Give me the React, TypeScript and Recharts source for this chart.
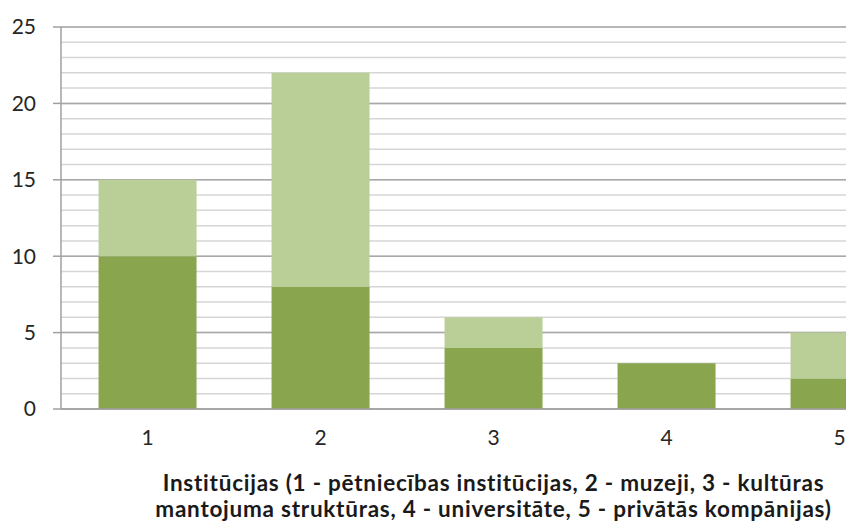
import { BarChart, Bar, XAxis, YAxis, CartesianGrid, Label } from 'recharts';

const categories = ['1', '2', '3', '4', '5'];
const darkValues = [10, 8, 4, 3, 2];
const lightValues = [5, 14, 2, 0, 3];
const majorTicks = [0, 5, 10, 15, 20, 25];
const minorTicks = [0, 1, 2, 3, 4, 5, 6, 7, 8, 9, 10, 11, 12, 13, 14, 15, 16, 17, 18, 19, 20, 21, 22, 23, 24, 25];
const titleLines = [
  'Institūcijas (1 - pētniecības institūcijas, 2 - muzeji, 3 - kultūras',
  'mantojuma struktūras, 4 - universitāte, 5 - privātās kompānijas)',
];

const data = categories.map((cat, i) => ({
  cat,
  dark: darkValues[i],
  light: lightValues[i],
}));

const font = "Lato, 'Open Sans', sans-serif";

const AxisTitle = (props: any) => {
  const { viewBox } = props;
  const cx = viewBox.x + viewBox.width / 2;
  return (
    <g>
      {titleLines.map((line, i) => (
        <text
          key={i}
          x={cx}
          y={viewBox.y + 82 + i * 26}
          textAnchor="middle"
          fontFamily={font}
          fontWeight="bold"
          fontSize={22.5}
          letterSpacing={0.75}
          fill="#1a1a1a"
        >
          {line}
        </text>
      ))}
    </g>
  );
};

// minor rows: run the minor values through the chart's own y scale
const minorRows = (props: any) => {
  const s = props?.yAxis?.scale;
  if (typeof s === 'function') return minorTicks.map((v) => s(v));
  if (s && typeof s.map === 'function') return minorTicks.map((v) => s.map(v));
  return [];
};

export default function App() {
  return (
    <div style={{ position: 'fixed', left: 0, top: 0, width: 846, height: 525, overflow: 'hidden', background: '#fff' }}>
      <BarChart
        width={940}
        height={525}
        data={data}
        margin={{ top: 27, right: 14, bottom: 0, left: 0 }}
        barCategoryGap="21.7%"
      >
        <CartesianGrid vertical={false} stroke="#d6d6d6" strokeWidth={1.5} horizontalCoordinatesGenerator={minorRows} />
        <CartesianGrid vertical={false} stroke="#a8a8a8" strokeWidth={1.5} />
        <YAxis
          width={61}
          domain={[0, 25]}
          ticks={majorTicks}
          interval={0}
          stroke="#a0a0a0"
          strokeWidth={1.5}
          tickSize={8}
          tickMargin={17}
          tick={{ fill: '#262626', fontSize: 21, fontFamily: font }}
        />
        <XAxis
          dataKey="cat"
          height={116}
          stroke="#a0a0a0"
          strokeWidth={1.5}
          tickLine={false}
          tickSize={0}
          tickMargin={21}
          tick={{ fill: '#262626', fontSize: 21, fontFamily: font }}
        >
          <Label content={<AxisTitle />} />
        </XAxis>
        <Bar dataKey="dark" stackId="a" fill="#89a54e" isAnimationActive={false} />
        <Bar dataKey="light" stackId="a" fill="#b9cf97" isAnimationActive={false} />
      </BarChart>
    </div>
  );
}
